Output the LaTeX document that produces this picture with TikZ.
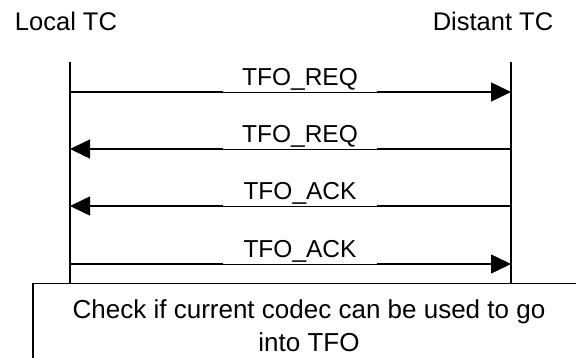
\documentclass[tikz,border=0pt]{standalone}
\usepackage{fontspec}
\setmainfont{Liberation Sans}
\usetikzlibrary{arrows.meta}

\tikzset{
  lifeline/.style={line width=1.5pt},
  msg/.style={line width=1.5pt, -{Triangle[length=20pt,width=19pt]}},
  msglabel/.style={fill=white, minimum width=154pt, inner xsep=0pt,
    inner ysep=0pt, text depth=6pt, anchor=base},
  entity/.style={anchor=base, font=\fontsize{25.5}{30}\selectfont}
}

\begin{document}
\begin{tikzpicture}[x=1pt, y=-1pt, every node/.style={font=\fontsize{24.5}{28}\selectfont}]
        \clip (0,0) rectangle (576,358);

        % Entities
        \node[entity] (local) at (66,31) {Local TC};
        \node[entity] (distant) at (493,31) {Distant TC};

        % Check box
        \node[
          draw,
          line width=1.5pt,
          minimum width=556pt,
          minimum height=110pt,
          anchor=north west
        ] (check) at (32,283) {};
        \node[anchor=base, align=center, font=\fontsize{26}{33}\selectfont]
          (checktext) at (309,352)
          {Check if current codec can be used to go\\into TFO};

        % Lifelines
        \coordinate (ltop) at (70,62);
        \coordinate (rtop) at (511,62);
        \draw[lifeline] (ltop) -- (ltop |- check.north);
        \draw[lifeline] (rtop) -- (rtop |- check.north);

        % Messages
        \foreach \y/\a/\b/\txt in {92/l/r/TFO\_REQ, 149/r/l/TFO\_REQ,
                                   206/r/l/TFO\_ACK, 264/l/r/TFO\_ACK} {
          \coordinate (l\y) at (70,\y);
          \coordinate (r\y) at (511,\y);
          \draw[msg] (\a\y) -- (\b\y);
          \node[msglabel] (m\y) at (300,\y-6) {\txt};
        }
      \end{tikzpicture}
\end{document}
